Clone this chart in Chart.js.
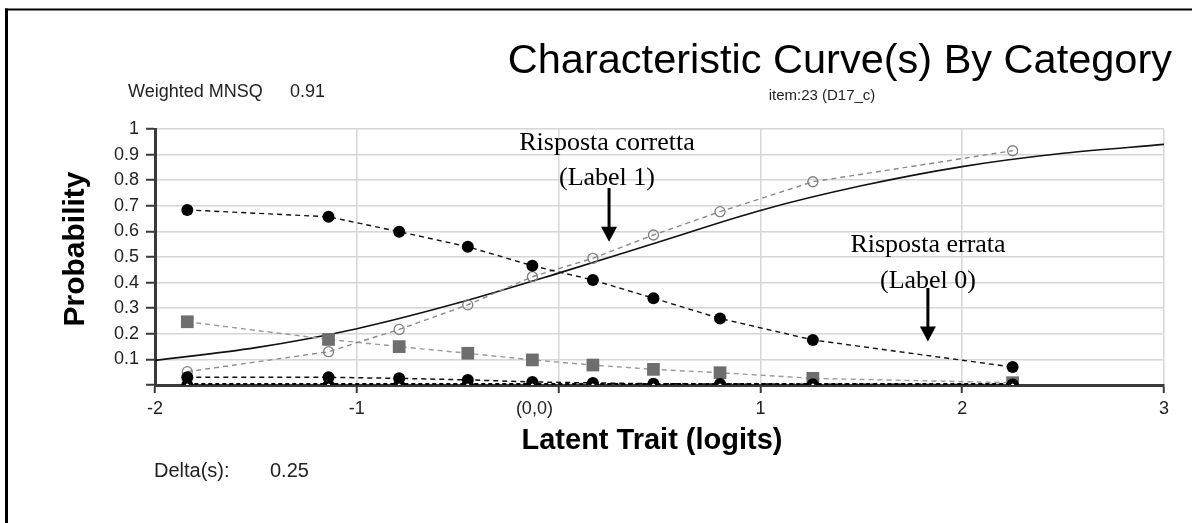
<!DOCTYPE html>
<html>
<head>
<meta charset="utf-8">
<script src="https://cdn.jsdelivr.net/npm/chart.js@4.4.0/dist/chart.umd.min.js"></script>
<style>
  html, body { margin: 0; padding: 0; background: #fff; }
  canvas { display: block; }
</style>
</head>
<body>
<canvas id="icc" width="1192" height="523"></canvas>
<script>
// Values
const groupX = [-1.84, -1.14, -0.79, -0.45, -0.13, 0.17, 0.47, 0.80, 1.26, 2.25];
const obsWrong = [0.684, 0.657, 0.599, 0.540, 0.466, 0.410, 0.339, 0.260, 0.176, 0.070];
const obsRight = [0.052, 0.130, 0.217, 0.313, 0.423, 0.495, 0.586, 0.677, 0.794, 0.915];
const obsOther = [0.247, 0.178, 0.150, 0.124, 0.098, 0.078, 0.061, 0.048, 0.026, 0.009];
const obsLow = [0.030, 0.030, 0.026, 0.020, 0.012, 0.008, 0.005, 0.004, 0.003, 0.002];
const obsZero = [0, 0, 0, 0, 0, 0, 0, 0, 0, 0];

// Model curve (solid line)
const modelX = [-2, -1.5, -1, -0.5, 0, 0.5, 1, 1.5, 2, 2.5, 3];
const modelY = [0.096, 0.146, 0.220, 0.320, 0.437, 0.560, 0.682, 0.778, 0.853, 0.905, 0.940];

// Tick labels (the origin label is drawn on its own, a little left of 0)
const xTickValues = [-2, -1, 0, 1, 2, 3];
const xTickLabels = ['-2', '-1', '', '1', '2', '3'];
const originLabel = '(0,0)';
const yTickLabels = ['', '0.1', '0.2', '0.3', '0.4', '0.5', '0.6', '0.7', '0.8', '0.9', '1'];

const SANS = '"Liberation Sans", Arial, sans-serif';
const SERIF = '"Liberation Serif", "Times New Roman", serif';

function pairs(xs, ys) {
    return xs.map((x, i) => ({ x: x, y: ys[i] }));
}

function dashed(data, color, dash, width) {
    return {
        data: data,
        borderColor: color,
        borderDash: dash,
        borderWidth: width,
        tension: 0
    };
}

function arrow(ctx, x, y0, y1) {
    ctx.lineWidth = 3;
    ctx.beginPath();
    ctx.moveTo(x, y0);
    ctx.lineTo(x, y1 - 12);
    ctx.stroke();
    ctx.beginPath();
    ctx.moveTo(x - 8, y1 - 15);
    ctx.lineTo(x + 8, y1 - 15);
    ctx.lineTo(x, y1);
    ctx.closePath();
    ctx.fill();
}

// Text, frame and arrows drawn on top of the chart
const decorations = {
    id: 'decorations',
    afterDraw(chart) {
        const ctx = chart.ctx;
        const xs = chart.scales.x, ys = chart.scales.y;
        ctx.save();
        ctx.fillStyle = '#000';
        ctx.strokeStyle = '#000';

        // frame (top and left edges only)
        ctx.lineWidth = 2;
        ctx.beginPath();
        ctx.moveTo(5, 9.5); ctx.lineTo(1192, 9.5);
        ctx.stroke();
        ctx.lineWidth = 3;
        ctx.beginPath();
        ctx.moveTo(6.5, 8.5); ctx.lineTo(6.5, 523);
        ctx.stroke();

        ctx.textBaseline = 'alphabetic';
        ctx.textAlign = 'right';
        ctx.font = '41.5px ' + SANS;
        ctx.fillText('Characteristic Curve(s) By Category', 1172, 73);

        ctx.fillStyle = '#222';
        ctx.textAlign = 'center';
        ctx.font = '15px ' + SANS;
        ctx.fillText('item:23 (D17_c)', 822, 100);

        ctx.textAlign = 'left';
        ctx.font = '18px ' + SANS;
        ctx.fillText('Weighted MNSQ', 128, 97);
        ctx.fillText('0.91', 290, 97);
        ctx.font = '20px ' + SANS;
        ctx.fillText('Delta(s):', 154, 477);
        ctx.fillText('0.25', 270, 477);

        // origin label on the x axis
        ctx.textAlign = 'center';
        ctx.textBaseline = 'top';
        ctx.font = '18px ' + SANS;
        ctx.fillText(originLabel, xs.getPixelForValue(-0.12), ys.bottom + 15);

        // axis titles
        ctx.textBaseline = 'alphabetic';
        ctx.fillStyle = '#000';
        ctx.font = 'bold 29px ' + SANS;
        ctx.fillText('Latent Trait (logits)', 652, 449);
        ctx.save();
        ctx.translate(84, 249);
        ctx.rotate(-Math.PI / 2);
        ctx.font = 'bold 30px ' + SANS;
        ctx.fillText('Probability', 0, 0);
        ctx.restore();

        // annotations
        ctx.font = '26px ' + SERIF;
        ctx.fillText('Risposta corretta', 607, 150);
        ctx.fillText('(Label 1)', 607, 185);
        ctx.fillText('Risposta errata', 928, 252);
        ctx.fillText('(Label 0)', 928, 288);
        arrow(ctx, xs.getPixelForValue(0.25), 188, ys.getPixelForValue(0.56));
        arrow(ctx, xs.getPixelForValue(1.83), 288, ys.getPixelForValue(0.17));
        ctx.restore();
    }
};

const ctx = document.getElementById('icc').getContext('2d');
new Chart(ctx, {
    type: 'line',
    data: {
        datasets: [
            Object.assign(dashed(pairs(groupX, obsZero), 'rgba(0,0,0,0)', [], 0), {
                pointRadius: 1.6, pointBackgroundColor: '#fff', pointBorderWidth: 0, showLine: false
            }),
            Object.assign(dashed(pairs(groupX, obsZero), '#000', [4, 3], 4), {
                pointRadius: 6, pointBackgroundColor: '#000', pointBorderWidth: 0
            }),
            Object.assign(dashed(pairs(groupX, obsLow), '#111', [5, 4], 1.5), {
                pointRadius: 6, pointBackgroundColor: '#000', pointBorderWidth: 0
            }),
            Object.assign(dashed(pairs(groupX, obsWrong), '#111', [5, 4], 1.4), {
                pointRadius: 6, pointBackgroundColor: '#000', pointBorderWidth: 0
            }),
            Object.assign(dashed(pairs(groupX, obsRight), '#8a8a8a', [5, 4], 1.4), {
                pointRadius: 5, pointBackgroundColor: 'rgba(255,255,255,0)',
                pointBorderColor: '#808080', pointBorderWidth: 1.3
            }),
            Object.assign(dashed(pairs(groupX, obsOther), '#9a9a9a', [5, 4], 1.4), {
                pointStyle: 'rect', pointRadius: 9, pointBackgroundColor: '#6e6e6e', pointBorderWidth: 0
            }),
            {
                data: pairs(modelX, modelY),
                borderColor: '#111',
                borderWidth: 1.6,
                pointRadius: 0,
                cubicInterpolationMode: 'monotone'
            }
        ]
    },
    options: {
        responsive: false,
        animation: false,
        devicePixelRatio: 1,
        layout: { padding: { left: 0, right: 28, top: 129, bottom: 0 } },
        plugins: {
            legend: { display: false },
            tooltip: { enabled: false }
        },
        scales: {
            x: {
                type: 'linear',
                min: -2,
                max: 3,
                afterFit(scale) { scale.height = 138; },
                ticks: {
                    stepSize: 1,
                    autoSkip: false,
                    maxRotation: 0,
                    padding: 5,
                    color: '#222',
                    font: { family: SANS, size: 18 },
                    callback: v => xTickLabels[xTickValues.indexOf(v)]
                },
                grid: { color: '#d6d6d6', lineWidth: 1.5, tickLength: 8, tickColor: '#3a3a3a', tickWidth: 2 },
                border: { color: '#3a3a3a', width: 3 }
            },
            y: {
                min: 0,
                max: 1,
                afterFit(scale) { scale.width = 155; },
                ticks: {
                    stepSize: 0.1,
                    autoSkip: false,
                    padding: 7,
                    color: '#222',
                    font: { family: SANS, size: 18, lineHeight: 1 },
                    callback: v => yTickLabels[Math.round(v * 10)]
                },
                grid: { color: '#d6d6d6', lineWidth: 1.5, tickLength: 9, tickColor: '#3a3a3a', tickWidth: 2 },
                border: { color: '#3a3a3a', width: 3 }
            }
        }
    },
    plugins: [decorations]
});
</script>
</body>
</html>
